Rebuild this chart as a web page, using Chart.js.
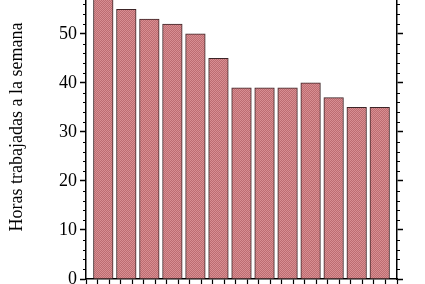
<!DOCTYPE html>
<html>
<head>
<meta charset="utf-8">
<script src="https://cdn.jsdelivr.net/npm/chart.js@4"></script>
<style>
  html, body { margin: 0; padding: 0; overflow: hidden; background: #fff; }
  #wrap { position: relative; width: 425px; height: 284px; overflow: hidden; }
  #myChart { position: absolute; left: 0; top: -25px; }
</style>
</head>
<body>
<div id="wrap"><canvas id="myChart" width="425" height="309"></canvas></div>
<script>
// semana (posicion en el eje x) y horas trabajadas
var semanas = [1, 2, 3, 4, 5, 6, 7, 8, 9, 10, 11, 12, 13];
var horas = [58, 55, 53, 52, 50, 45, 39, 39, 39, 40, 37, 35, 35];
var yTicks = [0, 10, 20, 30, 40, 50, 60];

// relleno a cuadritos como en el original
function trama() {
  var c = document.createElement("canvas");
  c.width = 2;
  c.height = 2;
  var g = c.getContext("2d");
  g.fillStyle = "#d88e92";
  g.fillRect(0, 0, 2, 2);
  g.fillStyle = "#bd6d71";
  g.fillRect(0, 0, 1, 1);
  g.fillRect(1, 1, 1, 1);
  return g.createPattern(c, "repeat");
}

var canva = document.getElementById("myChart");
var ctx = canva.getContext("2d");

var puntos = semanas.map(function (s, i) {
  return { x: s, y: horas[i] };
});

// marcas menores cada 2 horas, a izquierda y derecha
var marcasMenores = {
  id: "marcasMenores",
  afterDraw: function (chart) {
    var y = chart.scales.y;
    var area = chart.chartArea;
    var c = chart.ctx;
    c.save();
    c.strokeStyle = "#000";
    c.lineWidth = 1.2;
    for (var v = 0; v <= 62; v += 2) {
      if (v % 10 === 0) continue;
      var py = Math.round(y.getPixelForValue(v)) + 0.5;
      c.beginPath();
      c.moveTo(area.left - 3, py);
      c.lineTo(area.left, py);
      c.moveTo(area.right, py);
      c.lineTo(area.right + 3, py);
      c.stroke();
    }
    c.restore();
  },
};

var serif = "'Liberation Serif', 'Times New Roman', serif";

var myChart = new Chart(ctx, {
  type: "bar",
  data: {
    datasets: [
      {
        data: puntos,
        backgroundColor: trama(),
        borderColor: "#3c2426",
        borderWidth: 1,
        borderSkipped: "bottom",
        barThickness: 19.6,
      },
    ],
  },
  options: {
    responsive: false,
    animation: false,
    layout: { padding: { left: 0, right: 22, top: 0, bottom: 0 } },
    plugins: {
      legend: { display: false },
      tooltip: { enabled: false },
    },
    scales: {
      x: {
        type: "linear",
        position: "bottom",
        min: 0.5,
        max: 13.5,
        ticks: { display: false, stepSize: 0.5 },
        grid: {
          drawOnChartArea: false,
          tickLength: 5,
          tickColor: "#000",
          tickWidth: 1.2,
        },
        border: { color: "#000", width: 1.5 },
        afterFit: function (scale) {
          scale.height = 5;
        },
      },
      y: {
        position: "left",
        min: 0,
        max: 62,
        afterBuildTicks: function (scale) {
          scale.ticks = yTicks.map(function (v) {
            return { value: v };
          });
        },
        ticks: {
          color: "#000",
          font: { family: serif, size: 18 },
          padding: 3,
        },
        grid: {
          drawOnChartArea: false,
          tickLength: 6,
          tickColor: "#000",
          tickWidth: 1.5,
        },
        border: { color: "#000", width: 1.5 },
        title: {
          display: true,
          text: "Horas trabajadas a la semana",
          color: "#000",
          font: { family: serif, size: 18 },
          padding: { top: 6, bottom: 0 },
        },
        afterFit: function (scale) {
          scale.width = 86;
          scale.paddingTop = 0;
          scale.paddingBottom = 0;
        },
      },
      y2: {
        position: "right",
        min: 0,
        max: 62,
        afterBuildTicks: function (scale) {
          scale.ticks = yTicks.map(function (v) {
            return { value: v };
          });
        },
        ticks: { display: false },
        grid: {
          drawOnChartArea: false,
          tickLength: 6,
          tickColor: "#000",
          tickWidth: 1.5,
        },
        border: { color: "#000", width: 1.5 },
        afterFit: function (scale) {
          scale.width = 6;
        },
      },
    },
  },
  plugins: [marcasMenores],
});
</script>
</body>
</html>
